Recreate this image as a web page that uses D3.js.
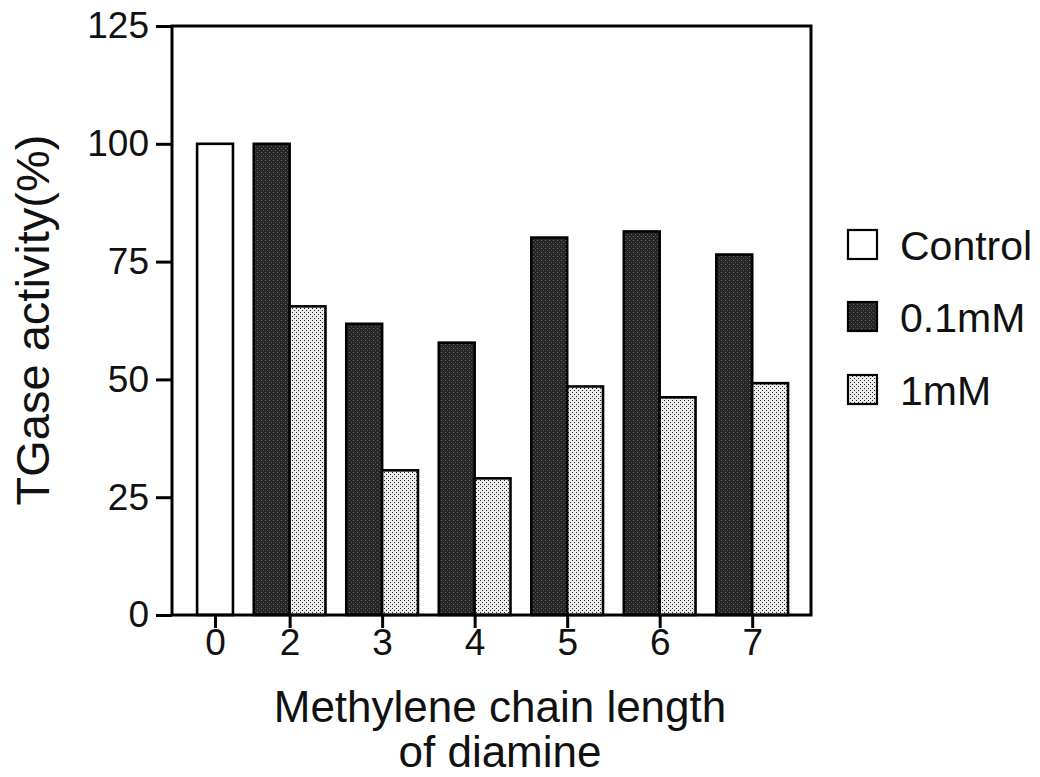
<!DOCTYPE html>
<html>
<head>
<meta charset="utf-8">
<script src="https://cdn.jsdelivr.net/npm/d3@7"></script>
<style>
  html, body { margin: 0; padding: 0; background: #fff; }
  svg { display: block; }
  text { font-family: "Liberation Sans", Arial, Helvetica, sans-serif; fill: #111; }
</style>
</head>
<body>
<svg id="chart" width="1040" height="777"></svg>
<script>
// Methylene chain length of the diamine (0 = control, no diamine)
const categories = ["0", "2", "3", "4", "5", "6", "7"];
// TGase activity (%) for each treatment
const controlValues = [100, null, null, null, null, null, null];
const dose01Values  = [null, 100, 61.8, 57.8, 80.1, 81.4, 76.5];
const dose1Values   = [null, 65.5, 30.7, 29, 48.5, 46.2, 49.2];
const yTicks = [0, 25, 50, 75, 100, 125];
const seriesNames = ["Control", "0.1mM", "1mM"];

const svg = d3.select("#chart");
const plot = { left: 172, right: 811, top: 26, bottom: 615 };

// patterned fills
const defs = svg.append("defs");
const dark = defs.append("pattern").attr("id", "darkFill")
  .attr("patternUnits", "userSpaceOnUse").attr("width", 4).attr("height", 4);
dark.append("rect").attr("width", 4).attr("height", 4).attr("fill", "#262626");
dark.append("rect").attr("x", 1).attr("y", 0).attr("width", 1).attr("height", 1).attr("fill", "#6a6a6a");
dark.append("rect").attr("x", 3).attr("y", 2).attr("width", 1).attr("height", 1).attr("fill", "#555");

const light = defs.append("pattern").attr("id", "lightFill")
  .attr("patternUnits", "userSpaceOnUse").attr("width", 4).attr("height", 4);
light.append("rect").attr("width", 4).attr("height", 4).attr("fill", "#ebebeb");
light.append("rect").attr("x", 0).attr("y", 0).attr("width", 1).attr("height", 1).attr("fill", "#222");
light.append("rect").attr("x", 2).attr("y", 2).attr("width", 1).attr("height", 1).attr("fill", "#222");

const fills = ["#ffffff", "url(#darkFill)", "url(#lightFill)"];

// horizontal layout in "bar units": each group holds as many bars as it has values
const series = [controlValues, dose01Values, dose1Values];
const padL = 0.7, padR = 0.64, gap = 0.58;
const groups = [];
let cursor = padL;
categories.forEach((c, i) => {
  const members = series.map((s, k) => ({ k, v: s[i] })).filter(d => d.v != null);
  groups.push({ cat: c, start: cursor, members });
  cursor += members.length + gap;
});
const totalUnits = cursor - gap + padR;

const x = d3.scaleLinear().domain([0, totalUnits]).range([plot.left, plot.right]);
const y = d3.scaleLinear().domain([0, 125]).range([plot.bottom, plot.top]);

// bars
const bars = [];
groups.forEach(g => g.members.forEach((m, j) => bars.push({ x0: g.start + j, v: m.v, k: m.k })));
svg.append("g").selectAll("rect").data(bars).join("rect")
  .attr("x", d => x(d.x0))
  .attr("width", d => x(d.x0 + 1) - x(d.x0))
  .attr("y", d => y(d.v))
  .attr("height", d => y(0) - y(d.v))
  .attr("fill", d => fills[d.k])
  .attr("stroke", "#000").attr("stroke-width", 2.6);

// frame
svg.append("rect")
  .attr("x", plot.left).attr("y", plot.top)
  .attr("width", plot.right - plot.left).attr("height", plot.bottom - plot.top)
  .attr("fill", "none").attr("stroke", "#000").attr("stroke-width", 3);

// y axis
const yAxis = svg.append("g").attr("transform", `translate(${plot.left},0)`)
  .call(d3.axisLeft(y).tickValues(yTicks).tickSize(16).tickPadding(7).tickSizeOuter(0));
yAxis.select(".domain").remove();
yAxis.selectAll("line").attr("stroke", "#000").attr("stroke-width", 3);
yAxis.selectAll("text").style("font-size", "37px").attr("fill", "#111");

// x axis, ticks at the middle of each group
const xCat = d3.scaleOrdinal(categories, groups.map(g => x(g.start + g.members.length / 2)));
const xAxis = svg.append("g").attr("transform", `translate(0,${plot.bottom})`)
  .call(d3.axisBottom(xCat).tickSize(13).tickPadding(1).tickSizeOuter(0));
xAxis.select(".domain").remove();
xAxis.selectAll("line").attr("stroke", "#000").attr("stroke-width", 3);
xAxis.selectAll("text").style("font-size", "37px").attr("fill", "#111");

// axis titles
svg.append("text")
  .attr("transform", "translate(49,320) rotate(-90)")
  .attr("text-anchor", "middle")
  .style("font-size", "47px")
  .text("TGase activity(%)");
svg.append("text").attr("x", 500).attr("y", 722).attr("text-anchor", "middle")
  .style("font-size", "44px").text("Methylene chain length");
svg.append("text").attr("x", 500).attr("y", 767).attr("text-anchor", "middle")
  .style("font-size", "44px").text("of diamine");

// legend
const legend = svg.append("g");
const rowY = [245, 317, 390];
seriesNames.forEach((name, i) => {
  legend.append("rect").attr("x", 848).attr("y", rowY[i] - 15)
    .attr("width", 29).attr("height", 29)
    .attr("fill", fills[i]).attr("stroke", "#000").attr("stroke-width", 2.2);
  legend.append("text").attr("x", 900).attr("y", rowY[i] + 15)
    .style("font-size", "41px").text(name);
});
</script>
</body>
</html>
